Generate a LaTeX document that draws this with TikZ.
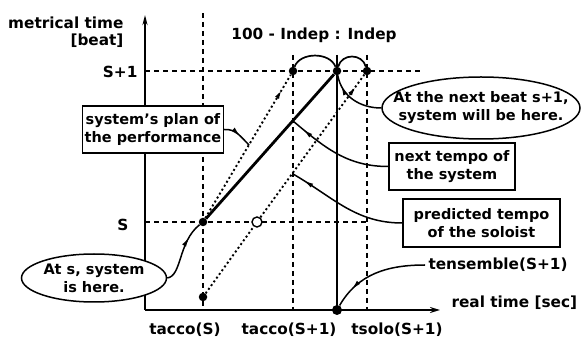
\documentclass[tikz,border=0pt]{standalone}
\usepackage{fontspec}
\setmainfont{DejaVu Sans}
\usetikzlibrary{arrows.meta,shapes.geometric,decorations.markings}

\begin{document}
\begin{tikzpicture}[x=1pt,y=-1pt,font=\fontsize{15.3}{17}\selectfont\bfseries,
 TMdot/.style={circle,fill,inner sep=0pt,minimum size=8.5pt},
 TMopen/.style={circle,draw,line width=1.4pt,fill=white,inner sep=0pt,minimum size=10pt},
 TMgrid/.style={line width=1.5pt,dash pattern=on 5pt off 4pt},
 TMdots/.style={line width=1.9pt,dash pattern=on 2pt off 2.6pt},
 TMbox/.style={draw,line width=1.5pt,fill=white,align=center,inner sep=2pt,
   font=\fontsize{14.5}{18}\selectfont\bfseries},
 TMoval/.style={TMbox,ellipse,inner xsep=-40pt,inner ysep=0pt},
 TMmark/.style={postaction={decorate},decoration={markings,
   mark=at position #1 with {\arrow{Latex[length=10pt,width=4.5pt]}}}},
 TMmark/.default=.85,
 TMcallout/.style={line width=1.5pt,TMmark=#1},
 TMcallout/.default=.85]
\useasboundingbox (0,0) rectangle (581,344);
% grid
\draw[TMgrid] (145,71) -- (423,71);
\draw[TMgrid] (145,222) -- (367,222);
\foreach \x/\top in {203/13,293/55,367/55}{\draw[TMgrid] (\x,\top) -- (\x,310);}
\draw[line width=1.1pt] (337,55) -- (337,310);
% axes
\coordinate (o) at (145,310);
\coordinate (ytop) at (145,15);
\coordinate (xend) at (440,310);
\draw[line width=2pt,-{Stealth[length=10pt,width=5pt]}] (o) -- (ytop);
\draw[line width=2.2pt,-{Stealth[length=10pt,width=6pt]}] (o) -- (xend);
\node[anchor=east,align=right] (ylab) at (127,32) {metrical time\\{[beat]}};
\node[anchor=west] (xlab) at (448,303) {real time [sec]};
\node (ratio) at (314,35) {100 - Indep : Indep};
\node[anchor=east] (lsp) at (141,72) {S+1};
\node (ls) at (123,225) {S};
\node (lacco) at (185,330) {tacco(S)};
\node (lacconext) at (289,330) {tacco(S+1)};
\node (lsolo) at (397,330) {tsolo(S+1)};
% points
\node[TMdot] (a) at (203,222) {};
\node[TMdot] (b) at (203,297) {};
\node[TMopen] (c) at (257,222) {};
\node[TMdot] (p1) at (293,71) {};
\node[TMdot] (p2) at (337,71) {};
\node[TMdot] (p3) at (367,71) {};
\node[TMdot,minimum size=10pt] (e) at (337,310) {};
\coordinate (q1) at (293,121);
\coordinate (q2) at (293,174);
\coordinate (q3) at (249,145);
% tempo lines
\draw[line width=2.8pt] (a) -- (p2);
\draw[TMdots,TMmark=.9] (a) -- (p1);
\draw[TMdots] (b) -- (c);
\draw[TMdots,TMmark=.92] (c) -- (p3);
\draw[line width=1.7pt] (p1) to[out=70,in=110] (p2);
\draw[line width=1.7pt] (p2) to[out=75,in=105,looseness=1.3] (p3);
% callouts
\node[TMbox,minimum width=140pt,minimum height=47pt] (plan) at (153,129.5) {system's plan of\\the performance};
\node[TMoval,minimum width=198pt,minimum height=62pt] (nextbeat) at (481,108) {At the next beat s+1,\\system will be here.};
\node[TMbox,minimum width=126pt,minimum height=47pt] (nexttempo) at (452,166.5) {next tempo of\\the system};
\node[TMbox,minimum width=157pt,minimum height=48pt] (predicted) at (481.5,223) {predicted tempo\\of the soloist};
\node[TMoval,minimum width=145pt,minimum height=48pt] (ats) at (94,278) {At s, system\\is here.};
\node[anchor=west] (tens) at (425,265) {tensemble(S+1)};
\draw[TMcallout=.6] (plan.east) to[out=5,in=135] (q3);
\draw[TMcallout=.82] (nextbeat.west) to[out=180,in=-80] (p2);
\draw[TMcallout=.88] (nexttempo.west) to[out=180,in=-40] (q1);
\draw[TMcallout=.9] (predicted.west) to[out=180,in=-30] (q2);
\draw[TMcallout=.8] (tens.west) to[out=180,in=60] (e);
\draw[TMcallout=.75] (ats.east) .. controls (182,276) and (178,242) .. (a);
\end{tikzpicture}
\end{document}
